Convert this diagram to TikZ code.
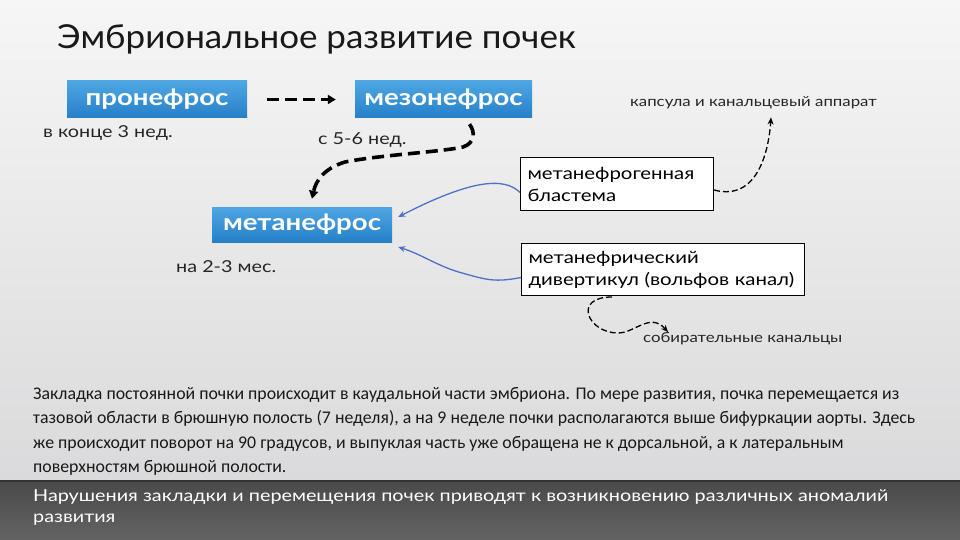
\documentclass[tikz,border=0pt]{standalone}
\usepackage{fontspec}
\setmainfont{Lato}
\newfontfamily\bodyfont{Carlito}
\newfontfamily\widefont[FakeStretch=1.2]{Lato}
\newfontfamily\titlefont[FakeStretch=1.06]{Lato}
\usetikzlibrary{arrows.meta,shadings}
\definecolor{boxtop}{RGB}{78,166,226}
\definecolor{boxbot}{RGB}{38,128,200}
\definecolor{bluearrow}{RGB}{80,112,200}
\definecolor{bgtop}{RGB}{246,246,246}
\definecolor{bgbot}{RGB}{218,218,220}
\definecolor{band}{RGB}{92,92,92}
\begin{document}
\begin{tikzpicture}[x=1pt,y=-1pt,
  bluebox/.style={shade, top color=boxtop, bottom color=boxbot, text=white,
    font=\widefont\bfseries\fontsize{23}{26}\selectfont, inner sep=0pt},
  whitebox/.style={draw=black, line width=1pt, fill=white, align=left, anchor=north west,
    inner sep=0pt, text width=#1, font=\widefont\fontsize{17}{22}\selectfont},
  plain/.style={inner sep=0pt, font=\widefont\fontsize{16.5}{18}\selectfont, text=black!85},
  small/.style={inner sep=0pt, font=\widefont\fontsize{14}{16}\selectfont, text=black!85},
  bigdash/.style={line width=3.6pt, dash pattern=on 12pt off 6pt, -{Triangle[length=8pt,width=9pt]}},
  thindash/.style={line width=1.3pt, dash pattern=on 6pt off 3pt, -{Stealth[length=7pt,width=6pt]}},
  bluearr/.style={draw=bluearrow, line width=1.3pt, -{Stealth[length=7pt,width=6pt]}}
]
\useasboundingbox (0,0) rectangle (960,540);
\shade[top color=bgtop, bottom color=bgbot] (0,0) rectangle (960,481);
\shade[top color=band!80!black, bottom color=band!95!white] (0,481) rectangle (960,540);
\draw[black!80, line width=1.5pt] (0,481) -- (960,481);

% title
\node[anchor=base west, inner sep=0pt, font=\titlefont\fontsize{33}{36}\selectfont, text=black!90] (title) at (57,49) {Эмбриональное развитие почек};

% blue boxes
\node[bluebox, minimum width=180pt, minimum height=37pt] (pro) at (157,99.5) {пронефрос};
\node[bluebox, minimum width=177pt, minimum height=37pt] (meso) at (443.5,99.5) {мезонефрос};
\node[bluebox, minimum width=180pt, minimum height=35pt] (meta) at (302,224.5) {метанефрос};

% time labels
\node[plain, anchor=west] (t1) at (43,133) {в конце 3 нед.};
\node[plain, anchor=west] (t2) at (318,140) {с 5-6 нед.};
\node[plain, anchor=west] (t3) at (176,267) {на 2-3 мес.};

% white boxes
\node[whitebox=193pt, minimum height=53pt] (blast) at (520,157) {\hspace*{7pt}метанефрогенная\\\hspace*{7pt}бластема};
\node[whitebox=283pt, minimum height=52pt] (div) at (521,243) {\hspace*{7pt}метанефрический\\\hspace*{7pt}дивертикул (вольфов канал)};

% right labels
\node[small, anchor=west] (caps) at (630,103) {капсула и канальцевый аппарат};
\node[small, anchor=west] (sob) at (643,339) {собирательные канальцы};

% arrows
\draw[bigdash, shorten <=20pt, shorten >=19pt] (pro.east) -- (meso.west);
\draw[bigdash] ([shift={(26,6)}]meso.south) .. controls +(6,8) and +(12,-4) .. (463,147)
  .. controls (440,152) and (380,155) .. (345,162)
  .. controls (325,168) and (316,180) .. ([shift={(10,-8)}]meta.north);
\draw[bluearr] ([shift={(0,8.5)}]blast.west) .. controls +(-16,-16) and +(72,-37) .. ([shift={(6,-7.5)}]meta.east);
\draw[bluearr] ([shift={(0,8)}]div.west) .. controls +(-26,5) and +(25,7) .. (462,273)
  .. controls +(-25,-7) and +(25,8) .. ([shift={(6,22.5)}]meta.east);
\draw[thindash] ([shift={(0,6)}]blast.east) .. controls +(45,12) and +(-2,30) .. ([shift={(141,8)}]caps.south west);
\draw[thindash] ([shift={(-51,1)}]div.south) .. controls +(-40,0) and +(-30,0) .. (618,333)
  .. controls (635,333) and (650,312) .. ([shift={(25,-7)}]sob.west);

% paragraph
\node[anchor=north west, inner sep=0pt, align=left, text=black!90,
  font=\bodyfont\fontsize{17.8}{24.5}\selectfont] (para) at (33,387) {%
Закладка постоянной почки происходит в каудальной части эмбриона. По мере развития, почка перемещается из\\
тазовой области в брюшную полость (7 неделя), а на 9 неделе почки располагаются выше бифуркации аорты. Здесь\\
же происходит поворот на 90 градусов, и выпуклая часть уже обращена не к дорсальной, а к латеральным\\
поверхностям брюшной полости.};

% bottom band text
\node[anchor=north west, inner sep=0pt, align=left, text=white,
  font=\widefont\fontsize{16.5}{21}\selectfont] (band) at (33,489) {%
Нарушения закладки и перемещения почек приводят к возникновению различных аномалий\\
развития};
\end{tikzpicture}
\end{document}
